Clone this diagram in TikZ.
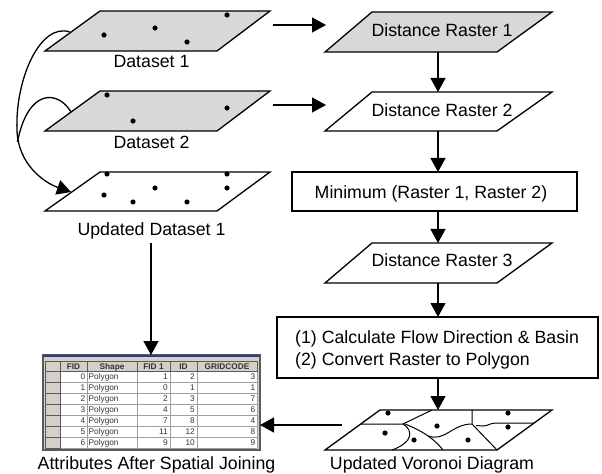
\documentclass[tikz,border=0pt]{standalone}
\usepackage{fontspec}
\setmainfont{Liberation Sans}
\usetikzlibrary{arrows.meta}
\definecolor{shade}{RGB}{216,216,216}
\definecolor{tabgray}{RGB}{212,208,200}
\definecolor{tabline}{RGB}{160,160,160}
\definecolor{tabdark}{RGB}{90,90,90}
\definecolor{tabblue}{RGB}{40,60,140}
\begin{document}
\begin{tikzpicture}[x=1bp,y=-1bp,
  lbl/.style={font=\fontsize{17.8}{20}\selectfont, anchor=base, inner sep=0pt},
  lbll/.style={font=\fontsize{17.8}{20}\selectfont, anchor=base west, inner sep=0pt},
  shp/.style={draw=black, line width=1.3bp, line join=miter},
  arr/.style={draw=black, line width=1.3bp, -{Triangle[length=14bp,width=15bp]}},
  vline/.style={draw=black, line width=1bp},
  tt/.style={font=\fontsize{8.3}{9}\selectfont, inner sep=0pt, text=black!80},
  th/.style={font=\fontsize{8.3}{9}\selectfont\bfseries, inner sep=0pt, anchor=base, text=black!80},
  cellr/.style={draw=tabdark, line width=0.6bp, fill=tabgray}
]
\useasboundingbox (0,0) rectangle (602,474);

% ---------- left column: datasets ----------
\draw[shp, fill=shade] (45,51) -- (100,11) -- (270,11) -- (217,51) -- cycle;
\foreach \p in {(104,35),(155,28),(187,42),(227,15)} \fill \p circle (2.6);
\node[lbl] (d1) at (151.5,67.5) {Dataset 1};

\draw[shp, fill=shade] (45,131) -- (100,91) -- (270,91) -- (217,131) -- cycle;
\foreach \p in {(107,95),(133,121),(227,108)} \fill \p circle (2.6);
\node[lbl] (d2) at (151.5,149) {Dataset 2};

\draw[shp, fill=white] (45,211) -- (100,172) -- (270,172) -- (217,211) -- cycle;
\foreach \p in {(107,174),(227,174),(104,195),(155,188),(133,202),(187,202),(227,188)} \fill \p circle (2.6);
\node[lbl] (ud1) at (151.5,236) {Updated Dataset 1};

% ---------- right column ----------
\draw[shp, fill=shade] (325,52) -- (372,12) -- (552,12) -- (497,52) -- cycle;
\node[lbl] (dr1) at (442,36.7) {Distance Raster 1};

\draw[shp, fill=white] (325,131) -- (372,92) -- (552,92) -- (497,131) -- cycle;
\node[lbl] (dr2) at (442,117) {Distance Raster 2};

\draw[shp, fill=white] (292,172) rectangle (577,211);
\node[lbl] (minr) at (431,199) {Minimum (Raster 1, Raster 2)};

\draw[shp, fill=white] (325,283) -- (372,243) -- (552,243) -- (497,283) -- cycle;
\node[lbl] (dr3) at (442,267) {Distance Raster 3};

\draw[shp, fill=white] (277,317) rectangle (598,378);
\node[lbll] (c1) at (295,343) {(1) Calculate Flow Direction \& Basin};
\node[lbll] (c2) at (295,365) {(2) Convert Raster to Polygon};

% Voronoi diagram
\draw[shp, fill=white] (325,450) -- (380,410) -- (552,410) -- (497,450) -- cycle;
\draw[vline] (361,424) -- (403,424) -- (432,410);
\draw[vline] (403,424) .. controls (413,430) and (414,442) .. (392,450);
\draw[vline] (405,424) .. controls (425,432) and (435,440) .. (443,450);
\draw[vline] (428,436) .. controls (445,442) and (452,424) .. (472,424);
\draw[vline] (472,410) -- (472,424) -- (497,450);
\draw[vline] (476,425.5) -- (483,426) .. controls (488,426) and (490,423) .. (496,423) -- (534,423);
\foreach \p in {(388,413),(508,413),(508,427),(437,426),(385,433),(414,440),(468,440)} \fill \p circle (2.6);
\node[lbl] (vor) at (432,469) {Updated Voronoi Diagram};

% ---------- table ----------
\fill[tabgray] (43,355) rectangle (260,450);
\fill[white] (60,371) rectangle (257,448);
\foreach \x in {60,87,137,170,197,257} \draw[tabline, line width=0.6bp] (\x,371) -- (\x,448);
\foreach \i in {0,...,7} \draw[tabline, line width=0.6bp] (60,{371+11*\i}) -- (257,{371+11*\i});
% header cells
\foreach \a/\b in {45/60,60/87,87/137,137/170,170/197,197/257}
  \draw[cellr] (\a,361) rectangle (\b,371);
\foreach \i in {0,...,6} \draw[cellr] (45,{371+11*\i}) rectangle (60,{382+11*\i});
\node[th] (hfid) at (73.5,369) {FID};
\node[th] (hshape) at (112,369) {Shape};
\node[th] (hfid1) at (153.5,369) {FID 1};
\node[th] (hid) at (183.5,369) {ID};
\node[th] (hgrid) at (227,369) {GRIDCODE};
\foreach \f/\a/\b/\c [count=\i from 0] in {0/1/2/3, 1/0/1/1, 2/2/3/7, 3/4/5/6, 4/7/8/4, 5/11/12/8, 6/9/10/9} {
  \node[tt, anchor=base east] (tf\i) at (85.5,{379.6+11*\i}) {\f};
  \node[tt, anchor=base west] (ts\i) at (88.5,{379.6+11*\i}) {Polygon};
  \node[tt, anchor=base east] (ta\i) at (168,{379.6+11*\i}) {\a};
  \node[tt, anchor=base east] (tb\i) at (195,{379.6+11*\i}) {\b};
  \node[tt, anchor=base east] (tc\i) at (255.5,{379.6+11*\i}) {\c};
}
\draw[tabdark, line width=1.4bp] (43,355) rectangle (260,450);
\draw[tabblue, line width=2bp] (43,355.5) -- (260,355.5);
\node[lbl] (attr) at (156.5,469) {Attributes After Spatial Joining};

% ---------- connector end points ----------
\coordinate (d1e) at (273,25);   \coordinate (dr1w) at (326,25);
\coordinate (d2e) at (273,105);  \coordinate (dr2w) at (326,105);
\coordinate (dr1s) at (438,52);  \coordinate (dr2n) at (438,92);
\coordinate (dr2s) at (438,131); \coordinate (minn) at (438,172);
\coordinate (mins) at (438,211); \coordinate (dr3n) at (438,243);
\coordinate (dr3s) at (438,283); \coordinate (calcn) at (438,317);
\coordinate (calcs) at (438,378); \coordinate (vorn) at (438,410);
\coordinate (vorw) at (342,425); \coordinate (tabe) at (260,425);
\coordinate (ud1s) at (151,243); \coordinate (tabn) at (151,355);
\coordinate (d1l) at (70,32);    \coordinate (d2l) at (71,112);
\coordinate (mrg) at (17,130);   \coordinate (udl) at (71,192);

% ---------- connectors ----------
\draw[arr] (d1e) -- (dr1w);
\draw[arr] (d2e) -- (dr2w);
\draw[arr] (dr1s) -- (dr2n);
\draw[arr] (dr2s) -- (minn);
\draw[arr] (mins) -- (dr3n);
\draw[arr] (dr3s) -- (calcn);
\draw[arr] (calcs) -- (vorn);
\draw[arr] (vorw) -- (tabe);
\draw[arr] (ud1s) -- (tabn);
\draw[arr] (d1l) .. controls (40,22) and (15,80) .. (mrg)
               .. controls (18,165) and (45,183) .. (udl);
\draw[line width=1.3bp] (d2l) .. controls (58,90) and (28,88) .. (17.5,142);
\end{tikzpicture}
\end{document}
